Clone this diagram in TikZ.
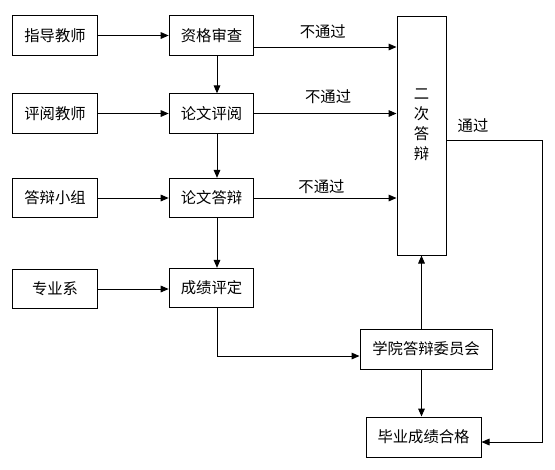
\documentclass[tikz,border=0pt]{standalone}
\usepackage{fontspec}
\newfontfamily\cjk{Noto Sans CJK SC}
\usetikzlibrary{positioning, arrows.meta}

\begin{document}
\begin{tikzpicture}[x=0.75pt, y=-0.75pt,
    box/.style={draw, line width=0.75pt, minimum width=63.5pt, minimum height=29.5pt, inner sep=0pt, font=\cjk\fontsize{11.5}{14}\selectfont},
    arr/.style={line width=0.75pt, -{Triangle[length=6pt, width=5pt]}},
    lbl/.style={font=\cjk\fontsize{11.5}{14}\selectfont, inner sep=1pt}]
    \useasboundingbox (0,0) rectangle (555,469);

    % Left column
    \foreach \n/\t/\y in {zd/指导教师/35.5, pj/评阅教师/113.5, db/答辩小组/198, zy/专业系/289}
      \node[box] (\n) at (55,\y) {\t};

    % Middle column
    \foreach \n/\t/\y in {zg/资格审查/35.5, lp/论文评阅/113.5, ld/论文答辩/198, cj/成绩评定/288}
      \node[box] (\n) at (211.5,\y) {\t};
    \coordinate (m) at (217,0);

    % Right column
    \node[box, minimum width=36.75pt, minimum height=179.25pt] (ec) at (421.5,135.5) {};
    \node[lbl, align=center, font=\cjk\fontsize{11.5}{15}\selectfont] (ect) at (421.5,125) {二\\次\\答\\辩};
    \node[box, minimum width=99pt, minimum height=30pt] (xy) at (426,349) {学院答辩委员会};
    \node[box, minimum width=86.25pt, minimum height=30pt] (by) at (423.5,437) {毕业成绩合格};

    % Draw connectors
    \foreach \a/\b in {zd/zg, pj/lp, db/ld, zy/cj}
      \draw[arr] (\a.east) -- (\a.east -| \b.west);
    \foreach \a/\b in {zg/lp, lp/ld, ld/cj}
      \draw[arr] (\a.south -| m) -- (\b.north -| m);

    % Not passed
    \coordinate (r1) at (300,47);
    \draw[arr] (zg.east |- r1) -- (ec.west |- r1) node[lbl, midway, above=5pt, xshift=-2pt] {不通过};
    \draw[arr] (lp.east) -- (lp.east -| ec.west) node[lbl, midway, above=6pt, xshift=2pt] {不通过};
    \draw[arr] (ld.east) -- (ld.east -| ec.west) node[lbl, midway, above=2pt, xshift=-3pt] {不通过};

    % Results
    \coordinate (c1) at (300,356);
    \draw[arr] (cj.south -| m) |- (xy.west |- c1);
    \draw[arr] (ec.south |- xy.north) -- (ec.south);
    \draw[arr] (xy.south -| ec.south) -- (by.north -| ec.south);

    % Passed
    \coordinate (r2) at (542,140);
    \coordinate (r3) at (542,442);
    \draw[arr] (ec.east |- r2) -- (r2) -- (r3) -- (by.east |- r3);
    \node[lbl] (tg) at (473,126) {通过};
\end{tikzpicture}
\end{document}
